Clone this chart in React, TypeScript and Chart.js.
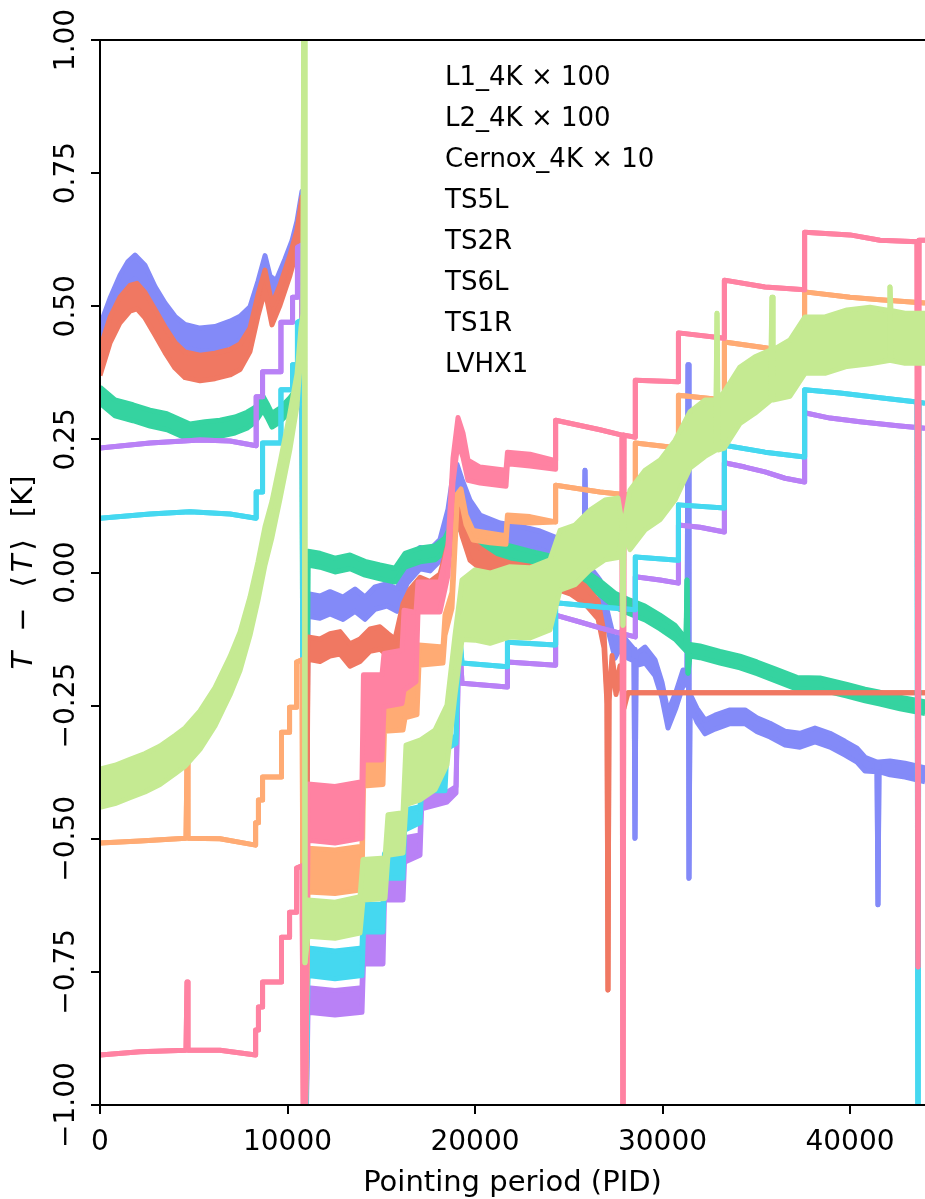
import React, { useEffect, useRef } from "react";
import { Chart, registerables } from "chart.js";

Chart.register(...registerables);

const FONT = '"DejaVu Sans", "Liberation Sans", sans-serif';

// ---- axes / labels ----
const X_TICKS = [0, 10000, 20000, 30000, 40000];
const Y_TICKS = [-1, -0.75, -0.5, -0.25, 0, 0.25, 0.5, 0.75, 1];
const X_RANGE = [0, 44000];
const Y_RANGE = [-1, 1];
const X_TITLE = "Pointing period (PID)";
const LEGEND_LABELS = [
  "L1_4K \u00d7 100",
  "L2_4K \u00d7 100",
  "Cernox_4K \u00d7 10",
  "TS5L",
  "TS2R",
  "TS6L",
  "TS1R",
  "LVHX1",
];

// ---- series: [PID, T - <T> (K), half-spread of the noisy band (K)] ----
const L1_4K = [
  [0, 0.395, 0.025], [533, 0.455, 0.024], [1067, 0.493, 0.024], [1600, 0.515, 0.024], [1973, 0.519, 0.024],
  [2400, 0.502, 0.024], [2933, 0.47, 0.024], [3467, 0.437, 0.024], [4000, 0.408, 0.024], [4533, 0.39, 0.024],
  [5333, 0.384, 0.024], [6133, 0.388, 0.024], [6933, 0.395, 0.024], [7467, 0.405, 0.024], [8000, 0.437, 0.022],
  [8427, 0.502, 0.02], [8800, 0.549, 0.019], [9173, 0.484, 0.019], [9600, 0.521, 0.019], [10133, 0.577, 0.019],
  [10507, 0.624, 0.019], [10773, 0.69, 0.015], [10880, -1.3, 0], [11093, -0.142, 0.021], [11733, -0.146, 0.021],
  [12267, -0.136, 0.021], [12800, -0.132, 0.021], [13333, -0.155, 0.021], [13867, -0.146, 0.021], [14400, -0.127, 0.021],
  [14933, -0.123, 0.021], [15360, -0.136, 0.021], [15733, -0.146, 0.021], [16160, -0.08, 0.021], [16533, -0.052, 0.021],
  [17067, -0.029, 0.02], [17600, -0.037, 0.02], [18133, -0.023, 0.02], [18560, 0.033, 0.02], [18827, 0.099, 0.02],
  [19040, 0.127, 0.02], [19307, 0.089, 0.02], [19733, 0.042, 0.019], [20267, 0.027, 0.019], [21067, 0.008, 0.019],
  [21867, 0.001, 0.017], [22933, -0.005, 0.017], [24000, -0.01, 0.017], [25067, -0.023, 0.017], [25867, -0.042, 0.017],
  [26560, -0.07, 0.017], [26880, -0.127, 0.015], [27040, -0.239, 0.008], [27093, -0.784, 0], [27147, -0.239, 0],
  [27307, -0.164, 0.008], [27520, -0.221, 0.008], [27733, -0.183, 0.008], [27947, -0.249, 0.006], [28160, -0.226, 0],
  [44000, -0.226, 0],
];

const L2_4K = [
  [0, 0.442, 0.022], [533, 0.493, 0.022], [1067, 0.536, 0.022], [1493, 0.562, 0.022], [1867, 0.574, 0.022],
  [2400, 0.555, 0.022], [2933, 0.515, 0.022], [3467, 0.484, 0.022], [4000, 0.459, 0.022], [4533, 0.444, 0.022],
  [5333, 0.437, 0.022], [6133, 0.44, 0.022], [6933, 0.45, 0.022], [7467, 0.459, 0.022], [8000, 0.478, 0.021],
  [8427, 0.527, 0.02], [8800, 0.577, 0.018], [9067, 0.54, 0.017], [9387, 0.531, 0.017], [9867, 0.572, 0.017],
  [10240, 0.606, 0.017], [10507, 0.643, 0.017], [10773, 0.703, 0.013], [10880, -1.3, 0], [11093, -0.061, 0.021],
  [11733, -0.065, 0.021], [12267, -0.057, 0.021], [12960, -0.067, 0.021], [13600, -0.052, 0.021], [14133, -0.067, 0.021],
  [14667, -0.048, 0.021], [15307, -0.042, 0.021], [15840, -0.052, 0.021], [16373, -0.001, 0.02], [17067, 0.027, 0.02],
  [17600, 0.023, 0.02], [18133, 0.042, 0.02], [18560, 0.099, 0.02], [18827, 0.164, 0.02], [19040, 0.183, 0.02],
  [19307, 0.155, 0.02], [19733, 0.117, 0.019], [20267, 0.089, 0.019], [21333, 0.076, 0.017], [22400, 0.07, 0.017],
  [23467, 0.061, 0.017], [24533, 0.046, 0.017], [25600, 0.023, 0.017], [25813, 0.02, 0.006], [25867, 0.192, 0],
  [25920, 0.014, 0.006], [26667, -0.029, 0.015], [27200, -0.108, 0.015], [27467, -0.146, 0.015], [27733, -0.127, 0.015],
  [28160, -0.146, 0.015], [28480, -0.155, 0.011], [28533, -0.499, 0], [28587, -0.164, 0.011], [29067, -0.155, 0.015],
  [29600, -0.179, 0.015], [29973, -0.221, 0.015], [30293, -0.277, 0.015], [30720, -0.239, 0.015], [31093, -0.198, 0.015],
  [31307, -0.202, 0.008], [31360, 0.39, 0], [31413, -0.574, 0], [31467, -0.239, 0.011], [31840, -0.268, 0.013],
  [32267, -0.29, 0.013], [32800, -0.281, 0.013], [33600, -0.271, 0.013], [34400, -0.271, 0.013], [35040, -0.286, 0.013],
  [35733, -0.296, 0.013], [36533, -0.311, 0.013], [37333, -0.315, 0.013], [38133, -0.305, 0.013], [38933, -0.315, 0.013],
  [39733, -0.33, 0.013], [40373, -0.343, 0.013], [40800, -0.36, 0.013], [41440, -0.365, 0.009], [41493, -0.624, 0],
  [41547, -0.365, 0.009], [42133, -0.367, 0.013], [42933, -0.371, 0.013], [44000, -0.38, 0.013],
];

const CERNOX_4K = [
  [0, 0.333, 0.015], [800, 0.309, 0.015], [1760, 0.3, 0.015], [2667, 0.29, 0.015], [3573, 0.283, 0.015],
  [4800, 0.264, 0.015], [5600, 0.268, 0.015], [6400, 0.271, 0.015], [7200, 0.277, 0.015], [7840, 0.286, 0.015],
  [8267, 0.296, 0.014], [8693, 0.318, 0.013], [8960, 0.301, 0.013], [9173, 0.286, 0.013], [9600, 0.296, 0.013],
  [10133, 0.315, 0.013], [10507, 0.333, 0.013], [10773, 0.352, 0.011], [10880, -1.3, 0], [11093, 0.027, 0.013],
  [11733, 0.023, 0.013], [12533, 0.014, 0.013], [13333, 0.02, 0.013], [14133, 0.008, 0.013], [14933, 0.001, 0.013],
  [15733, -0.005, 0.013], [16267, 0.023, 0.013], [17067, 0.033, 0.013], [17867, 0.037, 0.013], [18400, 0.052, 0.013],
  [18773, 0.08, 0.013], [19093, 0.099, 0.013], [19467, 0.08, 0.013], [20000, 0.052, 0.013], [20800, 0.042, 0.013],
  [21867, 0.037, 0.013], [22933, 0.027, 0.013], [24000, 0.018, 0.013], [25067, 0.005, 0.013], [25867, -0.01, 0.013],
  [26667, -0.029, 0.013], [27467, -0.052, 0.013], [28267, -0.065, 0.013], [29067, -0.076, 0.013], [29867, -0.093, 0.013],
  [30667, -0.112, 0.013], [31253, -0.136, 0.011], [31307, -0.014, 0], [31360, -0.189, 0], [31467, -0.146, 0.011],
  [32000, -0.149, 0.011], [33067, -0.159, 0.011], [34133, -0.168, 0.011], [35040, -0.179, 0.011], [36000, -0.192, 0.011],
  [37173, -0.208, 0.011], [38400, -0.209, 0.011], [39840, -0.221, 0.011], [40800, -0.23, 0.011], [41600, -0.236, 0.011],
  [42667, -0.245, 0.011], [44000, -0.254, 0.011],
];

const TS5L = [
  [0, 0.234, 0], [2667, 0.243, 0], [5333, 0.249, 0], [6933, 0.247, 0], [8330, 0.238, 0], [8330, 0.33, 0],
  [8670, 0.33, 0], [8670, 0.377, 0], [9650, 0.377, 0], [9650, 0.47, 0], [10270, 0.47, 0], [10270, 0.517, 0],
  [10530, 0.517, 0], [10530, 0.611, 0], [10773, 0.615, 0], [10880, -1.3, 0], [11093, -0.803, 0.023],
  [12533, -0.808, 0.023], [13973, -0.803, 0.023], [14050, -0.709, 0.026], [15093, -0.709, 0.026],
  [15170, -0.587, 0.028], [16160, -0.587, 0.028], [16240, -0.521, 0.023], [17067, -0.512, 0.019],
  [17150, -0.433, 0.011], [18507, -0.422, 0.009], [18987, -0.408, 0.006], [19147, -0.108, 0], [19307, -0.208, 0],
  [21730, -0.215, 0], [21730, -0.168, 0], [24300, -0.174, 0], [24300, -0.08, 0], [25600, -0.093, 0],
  [26667, -0.104, 0], [27733, -0.114, 0], [28550, -0.121, 0], [28550, -0.008, 0], [29867, -0.014, 0],
  [30850, -0.02, 0], [30850, 0.089, 0], [32000, 0.085, 0], [33300, 0.076, 0], [33300, 0.206, 0],
  [34400, 0.198, 0], [35467, 0.189, 0], [36533, 0.177, 0], [37580, 0.17, 0], [37580, 0.3, 0],
  [38933, 0.29, 0], [40533, 0.283, 0], [42667, 0.275, 0], [44000, 0.271, 0],
];

const TS2R = [
  [0, 0.102, 0], [2667, 0.11, 0], [4800, 0.114, 0], [6933, 0.11, 0], [8330, 0.102, 0], [8330, 0.151, 0],
  [8670, 0.151, 0], [8670, 0.243, 0], [9650, 0.243, 0], [9650, 0.343, 0], [10270, 0.343, 0], [10270, 0.39, 0],
  [10530, 0.39, 0], [10530, 0.47, 0], [10773, 0.474, 0], [10880, -1.3, 0], [11093, -0.731, 0.026],
  [12533, -0.737, 0.026], [13973, -0.731, 0.026], [14050, -0.649, 0.026], [15093, -0.649, 0.026],
  [15170, -0.551, 0.023], [16160, -0.551, 0.023], [16240, -0.465, 0.019], [17067, -0.455, 0.015],
  [17150, -0.395, 0.015], [18400, -0.395, 0.015], [18507, -0.32, 0.011], [18987, -0.315, 0.006],
  [19147, -0.104, 0], [19307, -0.17, 0], [21730, -0.177, 0], [21730, -0.131, 0], [24300, -0.136, 0],
  [24300, -0.057, 0], [26667, -0.065, 0], [28550, -0.07, 0], [28550, 0.029, 0], [30850, 0.023, 0],
  [30850, 0.127, 0], [33300, 0.121, 0], [33300, 0.239, 0], [35467, 0.226, 0], [37580, 0.217, 0],
  [37580, 0.343, 0], [39467, 0.337, 0], [41600, 0.328, 0], [43573, 0.32, 0], [43627, -1.3, 0],
  [43680, 0.32, 0], [44000, 0.318, 0],
];

const TS6L = [
  [0, -0.508, 0], [2133, -0.504, 0], [4587, -0.499, 0], [4640, -0.352, 0], [4693, -0.499, 0], [6400, -0.5, 0],
  [8300, -0.512, 0], [8300, -0.47, 0], [8450, -0.47, 0], [8450, -0.427, 0], [8670, -0.427, 0], [8670, -0.384, 0],
  [9680, -0.384, 0], [9680, -0.3, 0], [10110, -0.3, 0], [10110, -0.253, 0], [10480, -0.253, 0], [10480, -0.168, 0],
  [10773, -0.164, 0], [10880, -1.3, 0], [11093, -0.559, 0.041], [12533, -0.562, 0.041], [13973, -0.555, 0.041],
  [14050, -0.36, 0.041], [15093, -0.36, 0.038], [15170, -0.264, 0.034], [16160, -0.262, 0.034],
  [16267, -0.239, 0.034], [16907, -0.239, 0.028], [17010, -0.155, 0.019], [18293, -0.155, 0.015],
  [18400, -0.099, 0.019], [18773, -0.052, 0.015], [19040, 0.136, 0.011], [19253, 0.146, 0.011],
  [19520, 0.099, 0.009], [19893, 0.07, 0.009], [20800, 0.065, 0.009], [21653, 0.061, 0.008], [21730, 0.102, 0.006],
  [22933, 0.099, 0.006], [24300, 0.095, 0], [24300, 0.164, 0], [26667, 0.151, 0], [28550, 0.144, 0],
  [28550, 0.243, 0], [30850, 0.234, 0], [30850, 0.333, 0], [33300, 0.324, 0], [33300, 0.433, 0],
  [35467, 0.422, 0], [37580, 0.41, 0], [37580, 0.527, 0], [40000, 0.517, 0], [41600, 0.512, 0], [44000, 0.506, 0],
];

const TS1R = [
  [0, -0.906, 0], [2133, -0.9, 0], [4587, -0.897, 0], [4640, -0.769, 0], [4693, -0.897, 0], [6400, -0.897, 0],
  [8300, -0.906, 0], [8300, -0.859, 0], [8450, -0.859, 0], [8450, -0.816, 0], [8670, -0.816, 0], [8670, -0.769, 0],
  [9680, -0.769, 0], [9680, -0.685, 0], [10110, -0.685, 0], [10110, -0.638, 0], [10480, -0.638, 0], [10480, -0.555, 0],
  [10773, -0.551, 0], [10880, -1.3, 0], [11093, -0.45, 0.053], [12533, -0.455, 0.053], [13973, -0.446, 0.053],
  [14050, -0.272, 0.08], [15040, -0.272, 0.08], [15147, -0.202, 0.05], [16107, -0.196, 0.05],
  [16213, -0.146, 0.075], [16853, -0.14, 0.065], [16960, -0.046, 0.028], [18133, -0.046, 0.028],
  [18560, 0.023, 0.028], [18827, 0.192, 0.023], [19093, 0.268, 0.023], [19360, 0.239, 0.023],
  [19627, 0.192, 0.019], [20267, 0.183, 0.015], [21653, 0.177, 0.015], [21730, 0.215, 0.011],
  [22933, 0.211, 0.011], [24300, 0.202, 0.008], [24300, 0.286, 0], [26667, 0.268, 0], [27840, 0.258, 0],
  [27893, -1.3, 0], [27947, 0.258, 0], [28550, 0.254, 0], [28550, 0.361, 0], [30850, 0.358, 0],
  [30850, 0.45, 0], [33300, 0.44, 0], [33300, 0.549, 0], [35467, 0.536, 0], [37580, 0.531, 0],
  [37580, 0.639, 0], [40000, 0.634, 0], [41600, 0.624, 0], [43573, 0.621, 0], [43627, -0.741, 0],
  [43680, 0.624, 0], [44000, 0.624, 0],
];

const LVHX1 = [
  [0, -0.405, 0.036], [800, -0.398, 0.036], [1600, -0.387, 0.036], [2400, -0.376, 0.036], [3200, -0.362, 0.036],
  [4000, -0.342, 0.036], [4533, -0.328, 0.036], [5333, -0.296, 0.036], [6133, -0.252, 0.036], [6933, -0.194, 0.036],
  [7467, -0.148, 0.036], [8000, -0.082, 0.036], [8427, -0.016, 0.036], [8800, 0.05, 0.036], [9173, 0.1, 0.034],
  [9600, 0.172, 0.034], [10133, 0.266, 0.034], [10507, 0.343, 0.03], [10720, 0.437, 0.023], [10827, 0.478, 0.008],
  [10880, 1.3, 0], [10933, -0.733, 0], [11093, -0.649, 0.034], [12533, -0.653, 0.034], [13867, -0.643, 0.034],
  [14027, -0.577, 0.038], [15200, -0.574, 0.038], [15360, -0.493, 0.038], [16160, -0.489, 0.038],
  [16320, -0.38, 0.056], [17067, -0.371, 0.056], [17867, -0.352, 0.056], [18507, -0.305, 0.056],
  [18933, -0.174, 0.056], [19307, -0.07, 0.056], [20000, -0.061, 0.066], [20800, -0.067, 0.066],
  [21867, -0.055, 0.066], [22933, -0.057, 0.066], [24000, -0.042, 0.066], [24533, 0.023, 0.056],
  [25333, 0.033, 0.056], [26133, 0.061, 0.056], [26933, 0.08, 0.056], [27627, 0.084, 0.056], [27840, 0.084, 0.009],
  [27893, -0.099, 0], [27947, 0.084, 0.009], [28267, 0.099, 0.056], [29067, 0.136, 0.056], [29867, 0.155, 0.056],
  [30667, 0.192, 0.056], [31467, 0.249, 0.053], [32267, 0.271, 0.053], [32853, 0.277, 0.047], [32907, 0.487, 0],
  [32960, 0.277, 0.047], [33280, 0.286, 0.053], [34133, 0.333, 0.053], [34933, 0.352, 0.053], [35787, 0.371, 0.047],
  [35840, 0.517, 0], [35893, 0.371, 0.047], [36800, 0.384, 0.053], [37600, 0.427, 0.053], [38667, 0.427, 0.053],
  [39840, 0.44, 0.053], [41067, 0.445, 0.053], [42080, 0.445, 0.047], [42133, 0.536, 0], [42187, 0.445, 0.047],
  [42933, 0.44, 0.047], [44000, 0.44, 0.047],
];

// drawing order: lower "order" is drawn on top
const SERIES = [
  { name: LEGEND_LABELS[0], points: L1_4K, color: "#f07862", order: 6 },
  { name: LEGEND_LABELS[1], points: L2_4K, color: "#838af8", order: 8 },
  { name: LEGEND_LABELS[2], points: CERNOX_4K, color: "#35d3a0", order: 7 },
  { name: LEGEND_LABELS[3], points: TS5L, color: "#b981f6", order: 5 },
  { name: LEGEND_LABELS[4], points: TS2R, color: "#45d8f0", order: 4 },
  { name: LEGEND_LABELS[5], points: TS6L, color: "#ffab74", order: 3 },
  { name: LEGEND_LABELS[6], points: TS1R, color: "#ff82a2", order: 2 },
  { name: LEGEND_LABELS[7], points: LVHX1, color: "#c5ea92", order: 1 },
];

function buildDatasets() {
  const out: any[] = [];
  SERIES.forEach((s) => {
    const common = {
      borderColor: s.color,
      backgroundColor: s.color,
      borderWidth: 5,
      pointRadius: 0,
      tension: 0,
      borderJoinStyle: "round",
      borderCapStyle: "butt",
      order: s.order,
    };
    out.push({
      ...common,
      label: s.name + " (low)",
      data: s.points.map((p) => ({ x: p[0], y: p[1] - p[2] })),
      fill: false,
    });
    out.push({
      ...common,
      label: s.name,
      data: s.points.map((p) => ({ x: p[0], y: p[1] + p[2] })),
      fill: "-1",
    });
  });
  return out;
}

function fmtY(v: number) {
  const s = Math.abs(v).toFixed(2);
  return v < 0 ? "\u2212" + s : s;
}

const decorPlugin = {
  id: "decor",
  afterDatasetsDraw(chart: any) {
    const { ctx, chartArea: a, scales } = chart;
    ctx.save();
    ctx.strokeStyle = "#000";
    ctx.lineWidth = 2;
    ctx.lineCap = "square";
    ctx.beginPath();
    ctx.moveTo(a.left, a.bottom);
    ctx.lineTo(a.left, a.top);
    ctx.lineTo(a.right, a.top);
    ctx.moveTo(a.left, a.bottom);
    ctx.lineTo(a.right, a.bottom);
    ctx.stroke();
    ctx.lineCap = "butt";
    ctx.beginPath();
    Y_TICKS.forEach((v) => {
      const y = Math.round(scales.y.getPixelForValue(v));
      ctx.moveTo(a.left - 9, y);
      ctx.lineTo(a.left, y);
    });
    X_TICKS.forEach((v) => {
      const x = Math.round(scales.x.getPixelForValue(v));
      ctx.moveTo(x, a.bottom);
      ctx.lineTo(x, a.bottom + 9);
    });
    ctx.stroke();
    ctx.restore();
  },
  afterDraw(chart: any) {
    const { ctx, chartArea: a, scales } = chart;
    const tickFont = `28px ${FONT}`;
    const legendFont = `26px ${FONT}`;
    const titleFont = `29px ${FONT}`;
    const titleItalic = `italic 29px ${FONT}`;
    ctx.save();
    ctx.fillStyle = "#000";
    // y tick labels (rotated)
    ctx.font = tickFont;
    ctx.textAlign = "center";
    ctx.textBaseline = "alphabetic";
    Y_TICKS.forEach((v) => {
      const y = scales.y.getPixelForValue(v);
      ctx.save();
      ctx.translate(a.left - 26, y);
      ctx.rotate(-Math.PI / 2);
      ctx.fillText(fmtY(v), 0, 0);
      ctx.restore();
    });
    // x tick labels
    X_TICKS.forEach((v) => {
      const x = scales.x.getPixelForValue(v);
      ctx.fillText(String(v), x, a.bottom + 45);
    });
    // x title
    ctx.font = titleFont;
    ctx.fillText(X_TITLE, (a.left + a.right) / 2, a.bottom + 86);
    // y title: T − ⟨T⟩ [K]
    const parts = [
      { t: "T", f: titleItalic, gap: 0 },
      { t: "\u2212", f: titleFont, gap: 20 },
      { t: "\u27e8", f: titleFont, gap: 20 },
      { t: "T", f: titleItalic, gap: 4 },
      { t: "\u27e9", f: titleFont, gap: 4 },
      { t: "[K]", f: titleFont, gap: 22 },
    ];
    let total = 0;
    parts.forEach((p) => {
      ctx.font = p.f;
      total += p.gap + ctx.measureText(p.t).width;
    });
    ctx.save();
    ctx.translate(32, (a.top + a.bottom) / 2);
    ctx.rotate(-Math.PI / 2);
    ctx.textAlign = "left";
    let xx = -total / 2;
    parts.forEach((p) => {
      ctx.font = p.f;
      xx += p.gap;
      ctx.fillText(p.t, xx, 0);
      xx += ctx.measureText(p.t).width;
    });
    ctx.restore();
    // legend (text only)
    ctx.font = legendFont;
    ctx.textAlign = "left";
    LEGEND_LABELS.forEach((t, i) => {
      ctx.fillText(t, 445, 85 + i * 41);
    });
    ctx.restore();
  },
};

export default function App() {
  const ref = useRef<HTMLCanvasElement | null>(null);
  useEffect(() => {
    document.body.style.margin = "0";
    const canvas = ref.current;
    if (!canvas) return;
    const chart = new Chart(canvas, {
      type: "line",
      data: { datasets: buildDatasets() },
      options: {
        animation: false,
        responsive: false,
        devicePixelRatio: 1,
        events: [],
        layout: { padding: { top: 40, right: 0, bottom: 0, left: 0 } },
        plugins: { legend: { display: false }, tooltip: { enabled: false } },
        scales: {
          x: {
            type: "linear",
            min: X_RANGE[0],
            max: X_RANGE[1],
            ticks: { display: false },
            grid: { display: false },
            border: { display: false },
            afterFit: (s: any) => {
              s.height = 94;
            },
          },
          y: {
            type: "linear",
            min: Y_RANGE[0],
            max: Y_RANGE[1],
            ticks: { display: false },
            grid: { display: false },
            border: { display: false },
            afterFit: (s: any) => {
              s.width = 100;
            },
          },
        },
      },
      plugins: [decorPlugin],
    } as any);
    return () => chart.destroy();
  }, []);
  return (
    <div style={{ width: 925, height: 1199, position: "relative", background: "#fff" }}>
      <canvas ref={ref} width={925} height={1199} style={{ display: "block" }} />
    </div>
  );
}
